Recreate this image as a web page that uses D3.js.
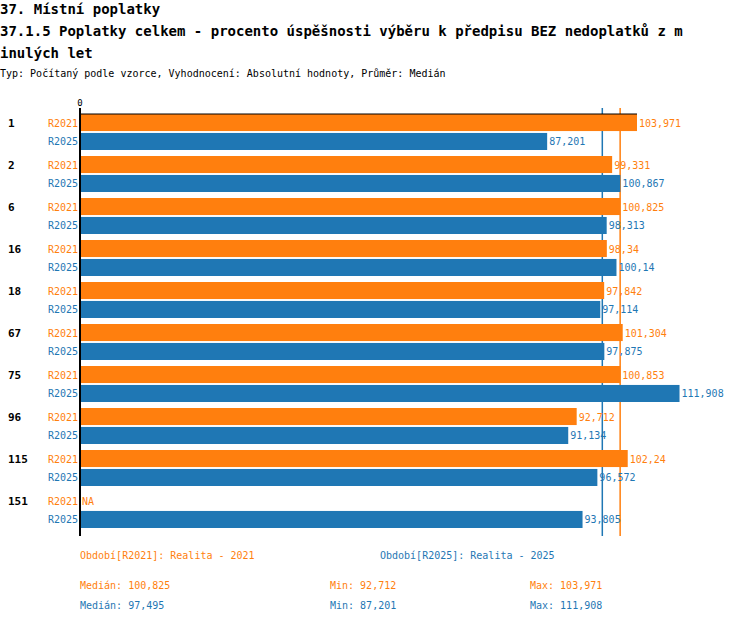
<!DOCTYPE html>
<html><head><meta charset="utf-8">
<script src="https://cdn.jsdelivr.net/npm/d3@7"></script>
<style>
body{margin:0;background:#fff;font-family:"DejaVu Sans Mono",monospace;}
svg text{font-family:"DejaVu Sans Mono",monospace;}
</style></head><body>
<script>
// data
var groups = ["1", "2", "6", "16", "18", "67", "75", "96", "115", "151"];
var series = ["R2021", "R2025"];
var labels = ["103,971","99,331","100,825","98,34","97,842","101,304","100,853","92,712","102,24","NA"];
var values2021 = [103.971, 99.331, 100.825, 98.34, 97.842, 101.304, 100.853, 92.712, 102.24, null];
var values2025 = [87.201, 100.867, 98.313, 100.14, 97.114, 97.875, 111.908, 91.134, 96.572, 93.805];
var labels2025 = ["87,201","100,867","98,313","100,14","97,114","97,875","111,908","91,134","96,572","93,805"];
var medians = [100.825, 97.495];
var colors = ["#ff7f0e", "#1f77b4"];

var svg = d3.select("body").append("svg").attr("width", 750).attr("height", 624);

// titles
svg.append("text").attr("x", 0).attr("y", 14).attr("font-size", 14).attr("font-weight", "bold").text("37. Místní poplatky");
svg.append("text").attr("x", 0).attr("y", 36).attr("font-size", 14).attr("font-weight", "bold").text("37.1.5 Poplatky celkem - procento úspěšnosti výběru k předpisu BEZ nedoplatků z m");
svg.append("text").attr("x", 0).attr("y", 58).attr("font-size", 14).attr("font-weight", "bold").text("inulých let");
svg.append("text").attr("x", 0).attr("y", 77).attr("font-size", 10).text("Typ: Počítaný podle vzorce, Vyhodnocení: Absolutní hodnoty, Průměr: Medián");

var x = d3.scaleLinear().domain([0, 103.971]).range([80, 637]);
var y = d3.scaleBand().domain(groups).range([114, 534]);
var ys = d3.scaleBand().domain(series).range([0, 36]).paddingInner(0.1);

// median lines (behind bars)
medians.forEach(function(m, i) {
  svg.append("line").attr("x1", x(m)).attr("x2", x(m)).attr("y1", 108).attr("y2", 536)
    .attr("stroke", colors[i]).attr("stroke-width", 1.5);
});

var rows = [values2021, values2025];
var rowLabels = [labels, labels2025];
groups.forEach(function(g, gi) {
  var gy = y(g);
  svg.append("text").attr("x", 8).attr("y", gy + 13).attr("font-size", 11).attr("font-weight", "bold").text(g);
  series.forEach(function(s, si) {
    var by = gy + ys(s);
    var v = rows[si][gi];
    svg.append("text").attr("x", 78).attr("y", by + ys.bandwidth() / 2 + 4).attr("text-anchor", "end")
      .attr("font-size", 10).attr("fill", colors[si]).text(s);
    var end = v == null ? x(0) : x(v);
    if (v != null) {
      svg.append("rect").attr("x", x(0)).attr("y", by).attr("width", end - x(0)).attr("height", ys.bandwidth()).attr("fill", colors[si]);
    }
    svg.append("text").attr("x", end + 2).attr("y", by + ys.bandwidth() / 2 + 4)
      .attr("font-size", 10).attr("fill", colors[si]).text(rowLabels[si][gi]);
  });
});

// axis
svg.append("line").attr("x1", 80).attr("x2", 80).attr("y1", 108).attr("y2", 536).attr("stroke", "#000").attr("stroke-width", 2);
svg.append("line").attr("x1", 80).attr("x2", 637).attr("y1", 114).attr("y2", 114).attr("stroke", "#000");
svg.append("text").attr("x", 80).attr("y", 106).attr("text-anchor", "middle").attr("font-size", 9).text("0");

// legend
svg.append("text").attr("x", 80).attr("y", 559).attr("font-size", 10).attr("fill", colors[0]).text("Období[R2021]: Realita - 2021");
svg.append("text").attr("x", 380).attr("y", 559).attr("font-size", 10).attr("fill", colors[1]).text("Období[R2025]: Realita - 2025");
var stats = [["Medián: 100,825", "Min: 92,712", "Max: 103,971"], ["Medián: 97,495", "Min: 87,201", "Max: 111,908"]];
var sx = [80, 330, 530];
stats.forEach(function(r, i) {
  r.forEach(function(t, j) {
    svg.append("text").attr("x", sx[j]).attr("y", 589 + i * 20).attr("font-size", 10).attr("fill", colors[i]).text(t);
  });
});
</script>
</body></html>
